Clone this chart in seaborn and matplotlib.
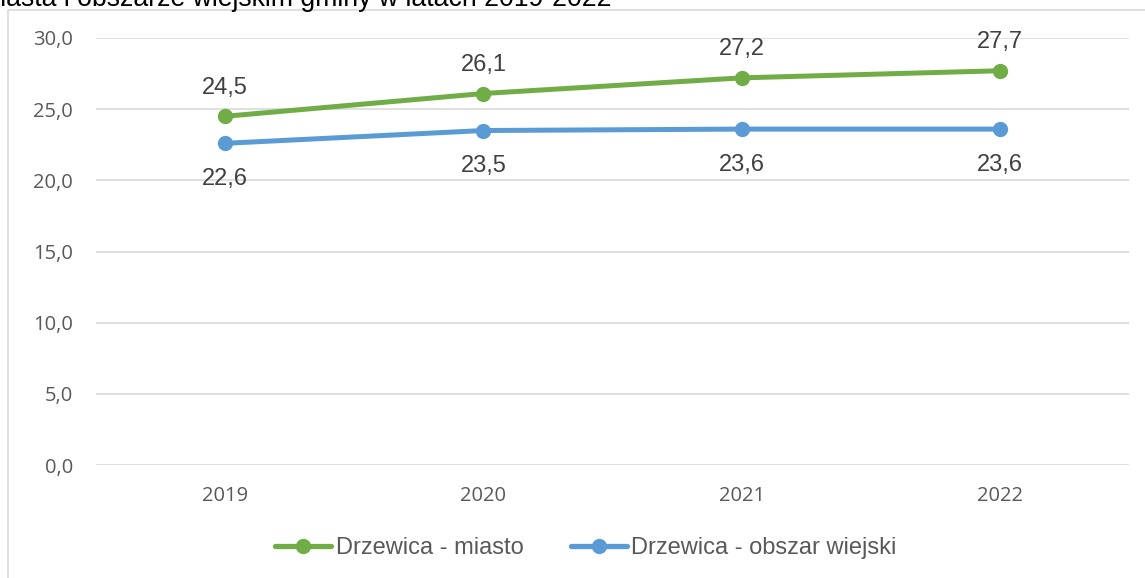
import matplotlib
matplotlib.use("Agg")
import matplotlib.pyplot as plt
import seaborn as sns
import pandas as pd
from matplotlib.lines import Line2D
from matplotlib.patches import Rectangle

years = ["2019", "2020", "2021", "2022"]
miasto = [24.5, 26.1, 27.2, 27.7]
wies = [22.6, 23.5, 23.6, 23.6]
series_names = ["Drzewica - miasto", "Drzewica - obszar wiejski"]
colors = ["#70AD47", "#5B9BD5"]
yticks = [0, 5, 10, 15, 20, 25, 30]
title = "miasta i obszarze wiejskim gminy w latach 2019-2022"

df = pd.DataFrame({
    "year": years * 2,
    "value": miasto + wies,
    "series": [series_names[0]] * 4 + [series_names[1]] * 4,
})

sns.set_theme(style="white")
plt.rcParams["font.family"] = ["Liberation Sans", "DejaVu Sans"]

fig = plt.figure(figsize=(11.45, 5.78), dpi=100)
ax = fig.add_axes([96/1145, 1 - 465/578, (1129 - 96)/1145, (465 - 38)/578])

sns.lineplot(data=df, x="year", y="value", hue="series", palette=colors,
             marker="o", markersize=11, markeredgewidth=0, linewidth=3.6,
             ax=ax, legend=False, sort=False)

ax.set_xlim(-0.5, 3.5)
ax.set_ylim(0, 30)
ax.set_yticks(yticks)
ax.set_yticklabels([f"{v:.1f}".replace(".", ",") for v in yticks])
ax.yaxis.grid(True, color="#D9D9D9", linewidth=1.2)
ax.set_axisbelow(True)
for s in ax.spines.values():
    s.set_visible(False)
ax.set_xlabel("")
ax.set_ylabel("")
ax.tick_params(axis="both", length=0, labelsize=14.5, labelcolor="#595959")
for lab in ax.get_xticklabels() + ax.get_yticklabels():
    lab.set_family(["Open Sans", "DejaVu Sans"])
ax.tick_params(axis="y", pad=16.5)
ax.tick_params(axis="x", pad=15)

for i, v in enumerate(miasto):
    ax.annotate(f"{v:.1f}".replace(".", ","), (i, v), xytext=(0, 16.3),
                textcoords="offset points", ha="center", va="baseline",
                fontsize=17, color="#404040")
for i, v in enumerate(wies):
    ax.annotate(f"{v:.1f}".replace(".", ","), (i, v), xytext=(0, -30),
                textcoords="offset points", ha="center", va="baseline",
                fontsize=17, color="#404040")

handles = [Line2D([0], [0], color=c, lw=3.8, marker="o", markersize=11,
                  markeredgewidth=0) for c in colors]
fig.legend(handles, series_names, loc="center", bbox_to_anchor=(586/1145, 1 - 548/578),
           ncol=2, frameon=False, fontsize=17, handlelength=2.37,
           handletextpad=0.2, columnspacing=2.0, labelcolor="#595959",
           borderpad=0, borderaxespad=0)

fig.patches.append(Rectangle((7.5/1145, -0.1), 1.2, 1 - 10/578 + 0.1,
                             transform=fig.transFigure, fill=False,
                             edgecolor="#D9D9D9", linewidth=1.2))
fig.text(-22/1145, 1 - 6/578, title, ha="left", va="baseline", fontsize=19.2,
         color="#000000")

fig.savefig("out.png", dpi=100)
